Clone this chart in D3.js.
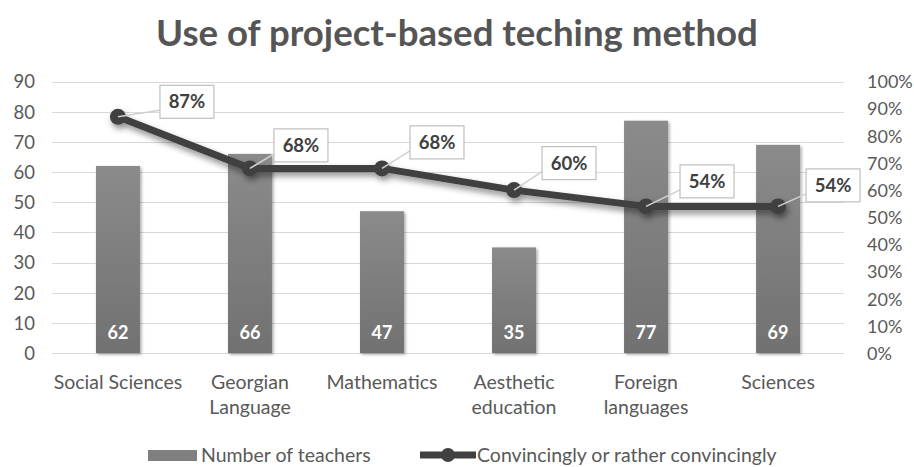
<!DOCTYPE html>
<html>
<head>
<meta charset="utf-8">
<script src="https://cdn.jsdelivr.net/npm/d3@7"></script>
<style>
  html, body { margin: 0; padding: 0; background: #fff; }
  svg { display: block; }
</style>
</head>
<body>
<svg id="chart" width="914" height="467"></svg>
<script>
// Subjects along the x axis (second entry of each pair wraps onto a new line)
const categories = [
  ["Social Sciences"],
  ["Georgian", "Language"],
  ["Mathematics"],
  ["Aesthetic", "education"],
  ["Foreign", "languages"],
  ["Sciences"]
];
// Bars: number of teachers per subject
const teachers = [62, 66, 47, 35, 77, 69];
// Line: share answering "convincingly or rather convincingly" (percent)
const convincing = [87, 68, 68, 60, 54, 54];
// Axis ticks
const leftTicks = [0, 10, 20, 30, 40, 50, 60, 70, 80, 90];
const rightTicks = [0, 10, 20, 30, 40, 50, 60, 70, 80, 90, 100];

const seriesNames = ["Number of teachers", "Convincingly or rather convincingly"];
const title = "Use of project-based teching method";

// Callout placement for each percentage label, relative to its point
const calloutShift = [[69, -15], [51, -23], [55, -26], [55, -27], [61, -25], [55, -21]];

const svg = d3.select("#chart");
const font = "Lato, 'Open Sans', sans-serif";
const textColor = "#595959";

const plot = { left: 52, right: 844, top: 81.5, bottom: 353 };

const x = d3.scaleBand()
  .domain(d3.range(categories.length))
  .range([plot.left, plot.right])
  .paddingInner(0.667)
  .paddingOuter(0.333);

const yLeft = d3.scaleLinear().domain([0, 90]).range([plot.bottom, plot.top]);
const yRight = d3.scaleLinear().domain([0, 100]).range([plot.bottom, plot.top]);

const defs = svg.append("defs");
const grad = defs.append("linearGradient").attr("id", "barFill")
  .attr("x1", 0).attr("y1", 0).attr("x2", 0).attr("y2", 1);
grad.append("stop").attr("offset", "0%").attr("stop-color", "#8b8b8b");
grad.append("stop").attr("offset", "100%").attr("stop-color", "#717171");

const barShadow = defs.append("filter").attr("id", "barShadow")
  .attr("x", "-20%").attr("y", "-10%").attr("width", "140%").attr("height", "120%");
barShadow.append("feDropShadow").attr("dx", 1.5).attr("dy", 1.5)
  .attr("stdDeviation", 1.5).attr("flood-color", "#000").attr("flood-opacity", 0.35);

const lineShadow = defs.append("filter").attr("id", "lineShadow")
  .attr("x", "-10%").attr("y", "-30%").attr("width", "120%").attr("height", "160%");
lineShadow.append("feDropShadow").attr("dx", 2).attr("dy", 4)
  .attr("stdDeviation", 3).attr("flood-color", "#000").attr("flood-opacity", 0.45);

// Title
const titleText = svg.append("text")
  .attr("x", 457).attr("y", 46)
  .attr("text-anchor", "middle")
  .attr("font-family", font)
  .attr("font-weight", 700)
  .attr("font-size", 32)
  .attr("fill", "#555")
  .text(title);
// keep the title at its intended span
{
  const w = titleText.node().getComputedTextLength();
  const target = 602;
  titleText.attr("font-size", 32 * target / w);
}

// Gridlines follow the left axis
svg.append("g").selectAll("line")
  .data(leftTicks)
  .join("line")
  .attr("x1", plot.left).attr("x2", plot.right)
  .attr("y1", d => Math.round(yLeft(d)) + 0.5)
  .attr("y2", d => Math.round(yLeft(d)) + 0.5)
  .attr("stroke", "#d9d9d9").attr("stroke-width", 1.2);

// Left axis
const leftAxis = svg.append("g")
  .attr("transform", `translate(${plot.left - 17},0)`)
  .call(d3.axisLeft(yLeft).tickValues(leftTicks).tickSize(0).tickPadding(0));
leftAxis.select(".domain").remove();
leftAxis.selectAll("text")
  .attr("font-family", font).attr("font-size", 18.5).attr("fill", textColor)
  .attr("dy", "0.35em");

// Right axis
const rightAxis = svg.append("g")
  .attr("transform", `translate(${plot.right + 23},0)`)
  .call(d3.axisRight(yRight).tickValues(rightTicks).tickSize(0).tickPadding(0)
    .tickFormat(d => d + "%"));
rightAxis.select(".domain").remove();
rightAxis.selectAll("text")
  .attr("font-family", font).attr("font-size", 18).attr("fill", textColor)
  .attr("dy", "0.35em");

// Bars
svg.append("g").selectAll("rect")
  .data(teachers)
  .join("rect")
  .attr("x", (d, i) => x(i))
  .attr("width", x.bandwidth())
  .attr("y", d => yLeft(d))
  .attr("height", d => yLeft(0) - yLeft(d))
  .attr("fill", "url(#barFill)")
  .attr("filter", "url(#barShadow)");

// Bar value labels
svg.append("g").selectAll("text")
  .data(teachers)
  .join("text")
  .attr("x", (d, i) => x(i) + x.bandwidth() / 2)
  .attr("y", 339)
  .attr("text-anchor", "middle")
  .attr("font-family", font).attr("font-weight", 700).attr("font-size", 18)
  .attr("fill", "#fff")
  .text(d => d);

// Category labels
const cx = i => x(i) + x.bandwidth() / 2;
svg.append("g").selectAll("text")
  .data(categories)
  .join("text")
  .attr("x", (d, i) => cx(i))
  .attr("y", 389)
  .attr("text-anchor", "middle")
  .attr("font-family", font).attr("font-size", 19.5).attr("fill", textColor)
  .each(function (d, i) {
    d3.select(this).selectAll("tspan").data(d).join("tspan")
      .attr("x", cx(i))
      .attr("dy", (t, j) => j === 0 ? 0 : 25)
      .text(t => t);
  });

// Line series
const pts = convincing.map((v, i) => [cx(i), yRight(v)]);
const lineG = svg.append("g").attr("filter", "url(#lineShadow)");
lineG.append("path")
  .attr("d", d3.line()(pts))
  .attr("fill", "none")
  .attr("stroke", "#404040")
  .attr("stroke-width", 7)
  .attr("stroke-linejoin", "round");
lineG.selectAll("circle")
  .data(pts)
  .join("circle")
  .attr("cx", d => d[0]).attr("cy", d => d[1])
  .attr("r", 8)
  .attr("fill", "#404040");

// Percentage callouts
const boxW = 54, boxH = 33;
const callouts = svg.append("g");
convincing.forEach((v, i) => {
  const [px, py] = pts[i];
  const bx = px + calloutShift[i][0] - boxW / 2;
  const by = py + calloutShift[i][1] - boxH / 2;
  callouts.append("line")
    .attr("x1", px).attr("y1", py)
    .attr("x2", bx).attr("y2", by + boxH - 8)
    .attr("stroke", "#d0d0d0").attr("stroke-width", 1.6);
  callouts.append("rect")
    .attr("x", bx).attr("y", by).attr("width", boxW).attr("height", boxH)
    .attr("fill", "#fff").attr("stroke", "#bfbfbf").attr("stroke-width", 1.2);
  callouts.append("text")
    .attr("x", bx + boxW / 2).attr("y", by + boxH / 2)
    .attr("dy", "0.36em")
    .attr("text-anchor", "middle")
    .attr("font-family", font).attr("font-weight", 700).attr("font-size", 18.5)
    .attr("fill", "#404040")
    .text(v + "%");
});

// Legend
const legend = svg.append("g");
legend.append("rect")
  .attr("x", 148).attr("y", 450).attr("width", 49).attr("height", 11)
  .attr("fill", "#7f7f7f");
legend.append("text")
  .attr("x", 201).attr("y", 462)
  .attr("font-family", font).attr("font-size", 19.5).attr("fill", textColor)
  .text(seriesNames[0]);
legend.append("line")
  .attr("x1", 420).attr("x2", 476).attr("y1", 455).attr("y2", 455)
  .attr("stroke", "#404040").attr("stroke-width", 7);
legend.append("circle")
  .attr("cx", 448).attr("cy", 455).attr("r", 7).attr("fill", "#404040");
legend.append("text")
  .attr("x", 477).attr("y", 462)
  .attr("font-family", font).attr("font-size", 19.5).attr("fill", textColor)
  .text(seriesNames[1]);
</script>
</body>
</html>
